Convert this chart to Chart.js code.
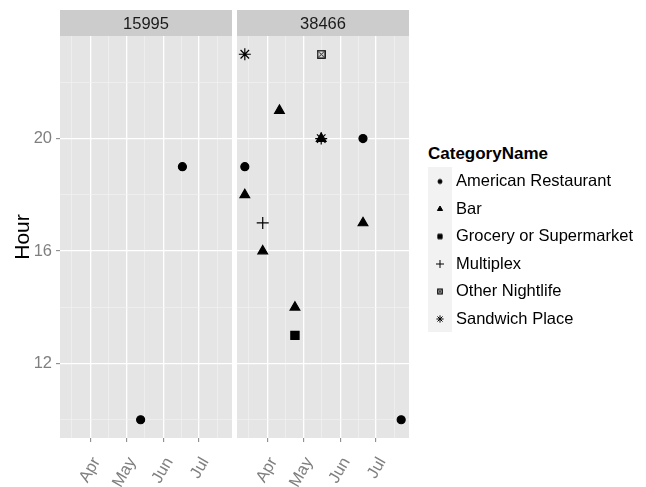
<!DOCTYPE html>
<html lang="en">
<head>
  <meta charset="UTF-8" />
  <title>Check-in hour by user</title>
  <script src="https://cdn.jsdelivr.net/npm/chart.js"></script>
  <style>
    body {
      margin: 0;
      background: #ffffff;
      font-family: 'Liberation Sans', Arial, sans-serif;
    }
    #wrap { position: relative; width: 646px; height: 487px; overflow: hidden; }
    #panel1 { position: absolute; left: 0; top: 0; }
    #panel2 { position: absolute; left: 237px; top: 0; }
    .legend { position: absolute; left: 428px; top: 143px; }
    .legend h3 {
      margin: 0 0 3px 0;
      font-size: 17px;
      line-height: 21px;
      font-weight: bold;
      color: #000;
    }
    .item { display: flex; align-items: center; height: 27.5px; }
    .key { width: 24px; height: 27.5px; background: #f2f2f2; }
    .item span { margin-left: 4px; font-size: 16.5px; color: #000; }
  </style>
</head>
<body>
  <div id="wrap">
    <canvas id="panel1" width="232" height="487"></canvas>
    <canvas id="panel2" width="172" height="487"></canvas>
    <div class="legend" id="legend"><h3>CategoryName</h3></div>
  </div>

  <script>
    // facets and categories
    const users = ['15995', '38466'];
    const categories = ['American Restaurant', 'Bar', 'Grocery or Supermarket', 'Multiplex', 'Other Nightlife', 'Sandwich Place'];

    // one entry per check-in
    const visitUser = ['15995', '15995', '38466', '38466', '38466', '38466', '38466', '38466',
                       '38466', '38466', '38466', '38466', '38466', '38466', '38466', '38466'];
    const visitCategory = ['American Restaurant', 'American Restaurant', 'Sandwich Place', 'Other Nightlife',
                           'Bar', 'Bar', 'Sandwich Place', 'American Restaurant',
                           'American Restaurant', 'Bar', 'Multiplex', 'Bar',
                           'Bar', 'Bar', 'Grocery or Supermarket', 'American Restaurant'];
    const visitDate = ['2015-06-17', '2015-05-13', '2015-03-13', '2015-05-16',
                       '2015-04-11', '2015-05-16', '2015-05-16', '2015-06-20',
                       '2015-03-13', '2015-03-13', '2015-03-28', '2015-06-20',
                       '2015-03-28', '2015-04-24', '2015-04-24', '2015-07-22'];
    const visitHour = [19, 10, 23, 23, 21, 20, 20, 20, 19, 18, 17, 17, 16, 14, 13, 10];

    // axis breaks
    const monthBreaks = ['2015-03-01', '2015-04-01', '2015-05-01', '2015-06-01', '2015-07-01', '2015-08-01'];
    const monthLabels = ['Mar', 'Apr', 'May', 'Jun', 'Jul', 'Aug'];
    const hourBreaks = [8, 12, 16, 20, 24];

    const dayOf = s => {
      const [y, m, d] = s.split('-').map(Number);
      return (Date.UTC(y, m - 1, d) - Date.UTC(y, 0, 1)) / 864e5;
    };
    const expand = (lo, hi) => { const p = (hi - lo) * 0.05; return [lo - p, hi + p]; };

    const visitDay = visitDate.map(dayOf);
    const monthDays = monthBreaks.map(dayOf);
    const [xMin, xMax] = expand(Math.min(...visitDay), Math.max(...visitDay));
    const [yMin, yMax] = expand(Math.min(...visitHour), Math.max(...visitHour));

    // major breaks plus ggplot style minor breaks half way between
    function breaks(majors, lo, hi) {
      const t = [];
      majors.forEach((v, i) => {
        t.push({ value: v, minor: false });
        if (i < majors.length - 1) t.push({ value: (v + majors[i + 1]) / 2, minor: true });
      });
      return t.filter(k => k.value >= lo && k.value <= hi);
    }

    function boxCross(size) {
      const c = document.createElement('canvas');
      c.width = c.height = size;
      const g = c.getContext('2d');
      g.strokeStyle = '#000';
      g.lineWidth = 1.3;
      const a = 0.8, b = size - 0.8;
      g.strokeRect(a, a, b - a, b - a);
      g.beginPath();
      g.lineWidth = 1;
      g.moveTo(a + 1.5, a + 1.5); g.lineTo(b - 1.5, b - 1.5);
      g.moveTo(b - 1.5, a + 1.5); g.lineTo(a + 1.5, b - 1.5);
      g.stroke();
      return c;
    }

    const shapes = {
      'American Restaurant': { style: 'circle', r: 4, lr: 2 },
      'Bar': { style: 'triangle', r: 5.6, lr: 3 },
      'Grocery or Supermarket': { style: 'rect', r: 5.8, lr: 3 },
      'Multiplex': { style: 'cross', r: 6, lr: 4 },
      'Other Nightlife': { style: boxCross(9), r: 5, lr: 3, legendStyle: boxCross(6) },
      'Sandwich Place': { style: 'star', r: 6, lr: 3.6 }
    };

    Chart.defaults.font.family = "'Liberation Sans', Arial, sans-serif";

    const panelDecor = {
      id: 'panelDecor',
      beforeDraw(chart, args, opts) {
        const { ctx, chartArea: a } = chart;
        ctx.save();
        ctx.fillStyle = '#e5e5e5';
        ctx.fillRect(a.left, a.top, a.right - a.left, a.bottom - a.top);
        ctx.fillStyle = '#cccccc';
        ctx.fillRect(a.left, 10, a.right - a.left, a.top - 10);
        ctx.fillStyle = '#1a1a1a';
        ctx.font = "16.5px 'Liberation Sans', Arial, sans-serif";
        ctx.textAlign = 'center';
        ctx.textBaseline = 'middle';
        ctx.fillText(opts.label, (a.left + a.right) / 2, (10 + a.top) / 2 + 1);
        ctx.restore();
      }
    };

    const gridColor = c => c.tick && c.tick.minor ? '#f2f2f2' : '#ffffff';
    const gridWidth = c => c.tick && c.tick.minor ? 0.7 : 1.3;
    const tickColor = c => c.tick && c.tick.minor ? 'rgba(0,0,0,0)' : '#7f7f7f';

    function makePanel(canvasId, user, showY) {
      const datasets = categories.map(cat => {
        const s = shapes[cat];
        const pts = [];
        visitUser.forEach((u, i) => {
          if (u === user && visitCategory[i] === cat) pts.push({ x: visitDay[i], y: visitHour[i] });
        });
        return {
          label: cat,
          data: pts,
          pointStyle: s.style,
          pointRadius: s.r,
          pointHoverRadius: s.r,
          backgroundColor: '#000',
          borderColor: '#000',
          borderWidth: 1.2
        };
      });

      return new Chart(document.getElementById(canvasId), {
        type: 'scatter',
        data: { datasets },
        plugins: [panelDecor],
        options: {
          responsive: false,
          animation: false,
          layout: { autoPadding: false, padding: { top: 36, left: 0, right: 0, bottom: 0 } },
          plugins: {
            legend: { display: false },
            tooltip: { enabled: false },
            panelDecor: { label: user }
          },
          scales: {
            x: {
              type: 'linear',
              min: xMin,
              max: xMax,
              afterBuildTicks: s => { s.ticks = breaks(monthDays, xMin, xMax); },
              afterFit: s => { s.height = 49; s.paddingLeft = 0; s.paddingRight = 0; },
              border: { display: false },
              grid: { color: gridColor, lineWidth: gridWidth, tickColor: tickColor, tickLength: 4, tickWidth: 1 },
              ticks: {
                autoSkip: false,
                minRotation: 60,
                maxRotation: 60,
                padding: 12,
                labelOffset: 6,
                color: '#7f7f7f',
                font: { size: 16.5 },
                callback: (v, i, t) => t[i].minor ? '' : monthLabels[monthDays.indexOf(v)]
              }
            },
            y: {
              min: yMin,
              max: yMax,
              afterBuildTicks: s => { s.ticks = breaks(hourBreaks, yMin, yMax); },
              afterFit: s => { s.width = showY ? 60 : 0; s.paddingTop = 0; s.paddingBottom = 0; },
              border: { display: false },
              grid: {
                color: gridColor, lineWidth: gridWidth, tickColor: tickColor,
                tickLength: 4, tickWidth: 1, drawTicks: showY
              },
              title: {
                display: showY,
                text: 'Hour',
                color: '#000',
                font: { size: 21 },
                padding: { top: 11, bottom: 0 }
              },
              ticks: {
                display: showY,
                padding: 4,
                color: '#7f7f7f',
                font: { size: 16.5 },
                callback: (v, i, t) => t[i].minor ? '' : v
              }
            }
          }
        }
      });
    }

    makePanel('panel1', users[0], true);
    makePanel('panel2', users[1], false);

    // legend
    const legend = document.getElementById('legend');
    categories.forEach(cat => {
      const s = shapes[cat];
      const row = document.createElement('div');
      row.className = 'item';
      const key = document.createElement('canvas');
      key.className = 'key';
      key.width = 24;
      key.height = 27;
      const g = key.getContext('2d');
      g.fillStyle = '#000';
      g.strokeStyle = '#000';
      g.lineWidth = 1;
      Chart.helpers.drawPoint(g, { pointStyle: s.legendStyle || s.style, radius: s.lr, borderWidth: 1, rotation: 0 }, 12, 14);
      const txt = document.createElement('span');
      txt.textContent = cat;
      row.appendChild(key);
      row.appendChild(txt);
      legend.appendChild(row);
    });
  </script>
</body>
</html>
